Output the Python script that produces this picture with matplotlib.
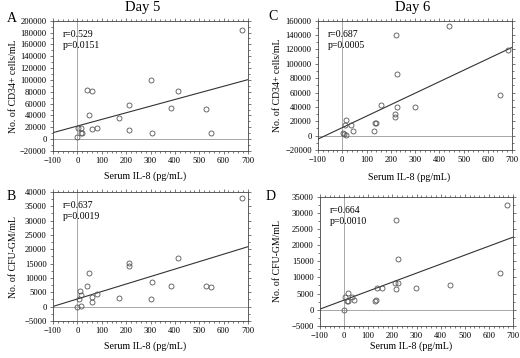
import numpy as np
import matplotlib
matplotlib.use('Agg')
import matplotlib.pyplot as plt
from matplotlib.ticker import MultipleLocator, AutoMinorLocator

plt.rcParams['font.family'] = ['Liberation Serif', 'DejaVu Serif']

# Day 5, CD34+ cells (panel A)
a_x = [674, 302, 414, 40, 60, 212, 49, 172, 386, 527, 3, 14, 14, 18, 62, 82, 212, 308, 550, 0]
a_y = [183800, 99500, 82000, 83200, 82000, 58400, 41600, 35400, 52300, 51100,
       18000, 18000, 11200, 11200, 16900, 19100, 15200, 10700, 9550, 2800]

# Day 5, CFU-GM (panel B)
b_x = [674, 212, 212, 414, 49, 40, 308, 386, 527, 550, 12, 14, 5, 62, 82, 59, 172, 302, 0, 16]
b_y = [38000, 15400, 14100, 17000, 11800, 7300, 8600, 7100, 7100, 6700,
       5400, 3900, 2800, 3500, 4400, 1500, 3100, 2700, -100, 100]

# Day 6, CD34+ cells (panel C)
c_x = [441, 220, 227, 683, 651, 161, 227, 298, 218, 216, 137, 140, 130, 15, 11, 36, 43, 3, 6, 15]
c_y = [152600, 140000, 85800, 119200, 56600, 42700, 39900, 39900, 30100, 26400,
       18100, 18100, 7000, 21300, 14800, 15300, 7000, 3700, 2300, 900]

# Day 6, CFU-GM (panel D)
d_x = [676, 215, 224, 646, 437, 296, 136, 158, 212, 224, 217, 131, 126, 14, 4, 33, 42, 11, 14, 0]
d_y = [32600, 27700, 15700, 11300, 7800, 6800, 6800, 6800, 8300, 8300,
       6400, 3100, 2700, 5100, 4000, 3800, 3100, 2800, 2800, -100]

stats = {'A': ('0.529', '0.0151'), 'B': ('0.637', '0.0019'),
         'C': ('0.687', '0.0005'), 'D': ('0.664', '0.0010')}

fig = plt.figure(figsize=(5.2, 3.58), dpi=100)

def px(l, r, t, b):
    return [l / 520, 1 - b / 358, (r - l) / 520, (b - t) / 358]

# name, x, y, box, ylim, ystep, ylabel, ylabel x, xlabel y
panels = [
    ('A', a_x, a_y, px(53, 248, 20.7, 151), (-20000, 200000), 20000, 'No. of CD34+ cells/mL', -0.18, -0.16),
    ('B', b_x, b_y, px(53, 248, 192, 321), (-5000, 40000), 5000, 'No. of CFU-GM/mL', -0.18, -0.16),
    ('C', c_x, c_y, px(318, 512, 20.7, 150), (-20000, 160000), 20000, 'No. of CD34+ cells/mL', -0.186, -0.17),
    ('D', d_x, d_y, px(320, 513, 197, 325.7), (-5000, 35000), 5000, 'No. of CFU-GM/mL', -0.197, -0.125),
]

for name, xs, ys, pos, ylim, ystep, ylab, ylx, xly in panels:
    ax = fig.add_axes(pos)
    xs = np.array(xs, float)
    ys = np.array(ys, float)
    ax.axvline(0, color='#999999', lw=0.6, zorder=1)
    ax.axhline(0, color='#999999', lw=0.6, zorder=1)
    k, b = np.polyfit(xs, ys, 1)
    lx = np.array([-100, 700])
    ax.plot(lx, k * lx + b, color='#333333', lw=0.8, zorder=2)
    ax.plot(xs, ys, 'o', mfc='none', mec='#555555', ms=3.6, mew=0.6, zorder=3)
    ax.set_xlim(-100, 700)
    ax.set_ylim(*ylim)
    ax.xaxis.set_major_locator(MultipleLocator(100))
    ax.xaxis.set_minor_locator(AutoMinorLocator(5))
    ax.yaxis.set_major_locator(MultipleLocator(ystep))
    ax.yaxis.set_minor_locator(AutoMinorLocator(2))
    ax.tick_params(which='both', direction='out', labelsize=6.2, top=True, right=True,
                   color='#444444', width=0.5, pad=2)
    ax.tick_params(which='major', length=2.5)
    ax.tick_params(which='minor', length=1.5)
    for s in ax.spines.values():
        s.set_linewidth(0.6)
        s.set_color('#444444')
    ax.set_xlabel('Serum IL-8 (pg/mL)', fontsize=7.2)
    ax.xaxis.set_label_coords(0.47, xly)
    ax.set_ylabel(ylab, fontsize=7)
    ax.yaxis.set_label_coords(ylx, 0.5)
    r, p = stats[name]
    ax.text(0.05, 0.93, 'r=%s\np=%s' % (r, p), transform=ax.transAxes,
            fontsize=7, va='top', ha='left', linespacing=1.25)

fig.text(7 / 520, 1 - 18 / 358, 'A', fontsize=10, va='center', ha='left')
fig.text(7 / 520, 1 - 197 / 358, 'B', fontsize=10, va='center', ha='left')
fig.text(268 / 520, 1 - 17 / 358, 'C', fontsize=10, va='center', ha='left')
fig.text(266 / 520, 1 - 197 / 358, 'D', fontsize=10, va='center', ha='left')
fig.text(143 / 520, 1 - 8 / 358, 'Day 5', fontsize=10.5, va='center', ha='center')
fig.text(413 / 520, 1 - 8 / 358, 'Day 6', fontsize=10.5, va='center', ha='center')

fig.savefig('out.png', dpi=100)
